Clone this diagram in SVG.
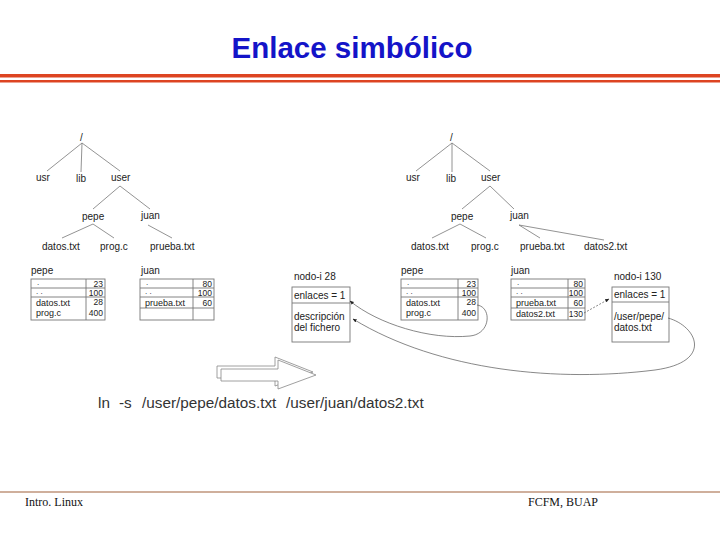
<svg xmlns="http://www.w3.org/2000/svg" width="720" height="540" viewBox="0 0 720 540">
<defs>
<style>
.t{font-family:"Liberation Sans",Arial,sans-serif;font-size:10px;fill:#222}
.r{font-family:"Liberation Sans",Arial,sans-serif;font-size:9px;fill:#222}
.d{font-family:"Liberation Sans",Arial,sans-serif;font-size:8px;fill:#222}
.n{font-family:"Liberation Sans",Arial,sans-serif;font-size:8.5px;fill:#222;text-anchor:end}
.tree{stroke:#777;stroke-width:0.8;fill:none}
.box{fill:#fff;stroke:#777;stroke-width:0.9}
.ln{stroke:#777;stroke-width:0.9}
.con{stroke:#555;stroke-width:0.7;fill:none}
.ft{font-family:"Liberation Serif","Times New Roman",serif;font-size:12px;fill:#111}
</style>
<marker id="ah" viewBox="0 0 10 10" refX="9" refY="5" markerWidth="6" markerHeight="6" orient="auto">
<path d="M0,1 L10,5 L0,9 z" fill="#222"/>
</marker>
</defs>
<rect width="720" height="540" fill="#fff"/>
<text x="352" y="58" text-anchor="middle" style="font-family:'Liberation Sans',Arial,sans-serif;font-size:29.5px;font-weight:bold;fill:#1414C8">Enlace simbólico</text>
<rect x="0" y="74" width="720" height="3.5" fill="#DD4422"/>
<rect x="0" y="80" width="720" height="2.5" fill="#DD4422"/>

<g id="tree-left">
<path class="tree" d="M82,143 L47,171 M82,143 L81,172 M82,143 L120,171 M120,186 L93,209 M120,186 L150,209 M93,224 L62,238 M93,224 L114,238 M148,225 L172,238"/>
<text class="t" x="80" y="141">/</text>
<text class="t" x="36" y="181">usr</text>
<text class="t" x="76" y="182">lib</text>
<text class="t" x="111" y="181">user</text>
<text class="t" x="82" y="220">pepe</text>
<text class="t" x="141" y="219">juan</text>
<text class="t" x="42" y="250">datos.txt</text>
<text class="t" x="100" y="250">prog.c</text>
<text class="t" x="150" y="250">prueba.txt</text>
</g>

<g id="table-pepe-left">
<text class="t" x="31" y="274">pepe</text>
<rect class="box" x="31" y="279" width="74" height="41"/>
<line class="ln" x1="31" y1="288" x2="105" y2="288"/>
<line class="ln" x1="31" y1="297" x2="105" y2="297"/>
<line class="ln" x1="86" y1="279" x2="86" y2="320"/>
<text class="d" x="37" y="285">.</text><text class="n" x="103" y="287">23</text>
<text class="d" x="36" y="294">. .</text><text class="n" x="103" y="296">100</text>
<text class="r" x="36" y="305.5">datos.txt</text><text class="n" x="103" y="305">28</text>
<text class="r" x="36" y="316">prog.c</text><text class="n" x="103" y="315.5">400</text>
</g>

<g id="table-juan-left">
<text class="t" x="141" y="274">juan</text>
<rect class="box" x="140" y="279" width="74" height="41"/>
<line class="ln" x1="140" y1="288" x2="214" y2="288"/>
<line class="ln" x1="140" y1="297" x2="214" y2="297"/>
<line class="ln" x1="140" y1="308" x2="214" y2="308"/>
<line class="ln" x1="193" y1="279" x2="193" y2="320"/>
<text class="d" x="146" y="285">.</text><text class="n" x="212" y="287">80</text>
<text class="d" x="145" y="294">. .</text><text class="n" x="212" y="296">100</text>
<text class="r" x="145" y="306">prueba.txt</text><text class="n" x="212" y="306">60</text>
</g>

<g id="inode-28">
<text class="t" x="294" y="280">nodo-i 28</text>
<rect class="box" x="292" y="287" width="58" height="55"/>
<line class="ln" x1="292" y1="303" x2="350" y2="303"/>
<text class="t" x="294" y="299">enlaces = 1</text>
<text class="t" x="294" y="320">descripción</text>
<text class="t" x="294" y="331">del fichero</text>
</g>

<g id="tree-right">
<path class="tree" d="M452,143 L416,171 M452,143 L452,172 M452,143 L490,171 M490,186 L462,209 M490,186 L514,209 M460,224 L432,238 M460,224 L486,238 M519,225 L540,238 M519,225 L604,240"/>
<text class="t" x="450" y="141">/</text>
<text class="t" x="406" y="181">usr</text>
<text class="t" x="446" y="182">lib</text>
<text class="t" x="481" y="181">user</text>
<text class="t" x="451" y="220">pepe</text>
<text class="t" x="510" y="219">juan</text>
<text class="t" x="411" y="250">datos.txt</text>
<text class="t" x="471" y="250">prog.c</text>
<text class="t" x="520" y="250">prueba.txt</text>
<text class="t" x="584" y="250">datos2.txt</text>
</g>

<g id="table-pepe-right">
<text class="t" x="401" y="274">pepe</text>
<rect class="box" x="401" y="279" width="77" height="41"/>
<line class="ln" x1="401" y1="288" x2="478" y2="288"/>
<line class="ln" x1="401" y1="297" x2="478" y2="297"/>
<line class="ln" x1="458" y1="279" x2="458" y2="320"/>
<text class="d" x="407" y="285">.</text><text class="n" x="476" y="287">23</text>
<text class="d" x="406" y="294">. .</text><text class="n" x="476" y="296">100</text>
<text class="r" x="406" y="305.5">datos.txt</text><text class="n" x="476" y="305">28</text>
<text class="r" x="406" y="316">prog.c</text><text class="n" x="476" y="315.5">400</text>
</g>

<g id="table-juan-right">
<text class="t" x="511" y="274">juan</text>
<rect class="box" x="511" y="279" width="74" height="41"/>
<line class="ln" x1="511" y1="288" x2="585" y2="288"/>
<line class="ln" x1="511" y1="297" x2="585" y2="297"/>
<line class="ln" x1="511" y1="308" x2="585" y2="308"/>
<line class="ln" x1="568" y1="279" x2="568" y2="320"/>
<text class="d" x="517" y="285">.</text><text class="n" x="583" y="287">80</text>
<text class="d" x="516" y="294">. .</text><text class="n" x="583" y="296">100</text>
<text class="r" x="516" y="306">prueba.txt</text><text class="n" x="583" y="306">60</text>
<text class="r" x="516" y="317">datos2.txt</text><text class="n" x="583" y="317">130</text>
</g>

<g id="inode-130">
<text class="t" x="614" y="280">nodo-i 130</text>
<rect class="box" x="612" y="287" width="57" height="55"/>
<line class="ln" x1="612" y1="302" x2="669" y2="302"/>
<text class="t" x="614" y="298">enlaces = 1</text>
<text class="t" x="614" y="320">/user/pepe/</text>
<text class="t" x="614" y="331">datos.txt</text>
</g>

<g id="connectors">
<path class="con" marker-end="url(#ah)" d="M477,305 C492,307 491,334 470,336 C430,340 378,324 350,301"/>
<path class="con" marker-end="url(#ah)" d="M668,318 C697,326 714,362 655,370 C560,382 440,372 353,319"/>
<path class="con" marker-end="url(#ah)" stroke-dasharray="2,1.5" d="M584,313 L609,299"/>
</g>

<g id="big-arrow">
<polygon points="217,366 275,366 275,357 313,372 275,386 275,378 217,378" fill="#fff" stroke="#888" stroke-width="0.8"/>
<polygon points="221,369 278,369 278,360 316,375 278,389 278,381 221,381" fill="#fff" stroke="#888" stroke-width="0.8"/>
</g>

<g id="command" style="font-family:'Liberation Sans',Arial,sans-serif;font-size:15.3px;fill:#333">
<text x="98" y="408">ln</text>
<text x="119" y="408">-s</text>
<text x="142" y="408">/user/pepe/datos.txt</text>
<text x="286" y="408">/user/juan/datos2.txt</text>
</g>

<line x1="0" y1="492" x2="720" y2="492" stroke="#A0603A" stroke-width="1.2"/>
<text class="ft" x="25" y="506">Intro. Linux</text>
<text class="ft" x="528" y="506">FCFM, BUAP</text>
</svg>
